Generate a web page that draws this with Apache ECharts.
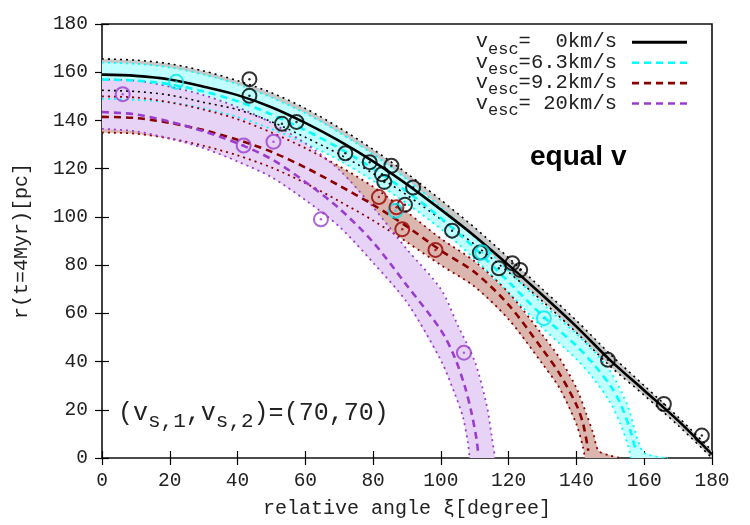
<!DOCTYPE html>
<html><head><meta charset="utf-8">
<script src="https://cdn.jsdelivr.net/npm/echarts/dist/echarts.min.js"></script>
<style>html,body{margin:0;padding:0;background:#fff}#c{width:750px;height:525px}</style>
</head><body><div id="c"></div>
<script>
// ---------- data ----------
const blackX   = [0,10,20,30,40,50,60,70,80,90,100,110,120,130,140,150,160,170,180];
const blackMid = [159,158.5,157,154,150.5,145.5,139,131.5,123,113.5,103,92,80,67.5,54.5,40.5,28,15.5,1.5];
const blackUp  = [165.5,165,163.5,160.5,156.5,151.5,145,137,128,118,107,95.5,83,70,57,43,30,17,3];
const blackLo  = [152.5,152,150.5,147.5,144.5,139.5,133,126,118,109,99,88.5,77,65,52,38,26,13.5,0];

const cyanMidX = [0,10,20,30,40,50,60,70,80,90,100,110,120,130,140,145,150,153,156,157.5];
const cyanMid  = [157,156.5,155,152,148,142.5,136,128.5,120,110.5,99.5,87,73,59,46.5,39,30,22.5,11,3];
const cyanUpX  = [0,10,20,30,40,50,60,70,80,90,100,110,120,130,140,145,150,155,158,160,167];
const cyanUp   = [164,163.5,162,159,155,149.5,143,135,126,115.5,104,91.5,77.5,64,51.5,44.5,36,22,8,2,0];
const cyanLoX  = [0,10,20,30,40,50,60,70,80,90,100,110,120,130,140,145,150,153,155.5,156];
const cyanLo   = [149,148.5,147.5,145,141.5,136.5,130.5,123.5,115,105.5,95,82.5,68.5,54,41,33,23,14,4,0];

const redMidX  = [0,10,20,30,40,50,60,70,80,90,100,110,120,130,135,140,142,143.5];
const redMid   = [141.5,141,139,136,132,127,120.5,113,105,96,86,77,63.5,45,35,22,14,3];
const redUpX   = [0,10,20,30,40,50,60,70,80,90,100,110,120,130,135,140,143,145,146.5,150,153];
const redUp    = [150,149.5,147.5,144.5,140.5,135,128.5,121,112.5,102,91,81.5,68.5,51,41.5,29,18,10,3,1,0];
const redLoX   = [0,10,20,30,40,50,60,70,80,90,100,110,120,130,135,140,142,142.5];
const redLo    = [135,134.5,132.5,129.5,125.5,120.5,114,106.5,98.5,89.5,80,71,57.5,39,29,14,4,0];

const purpleMidX = [0,10,20,30,40,50,60,70,80,90,100,104,107,109,110.5,111];
const purpleMid  = [143.5,142.5,139.5,135.5,130.5,124,114.5,103.5,89.5,71.5,53,42,30,19,8,2];
const purpleUpX  = [0,10,20,30,40,50,60,70,80,90,100,105,110,113.5,115,116];
const purpleUp   = [157,156.5,154,150.5,145.5,139,130.5,119.5,104,86.5,70,55,40,22,9,0];
const purpleLoX  = [0,10,20,30,40,50,60,70,80,90,100,104,106.5,108,108.5];
const purpleLo   = [136.5,135.5,132.5,128.5,123,116.5,107,96,81,64.5,40.5,27,17,6,0];

const blackPtsX  = [43.5,43.5,53.1,57.4,71.8,79,85.4,82.6,83.3,91.8,89.4,103.3,111.5,117.1,121.1,123.4,149.3,165.8,177];
const blackPtsY  = [157.1,150.2,138.6,139.4,126.4,122.7,121.2,117.7,114.5,112.2,105,94.3,85.2,78.7,80.8,78,40.7,22.4,9.3];
const cyanPtsX   = [21.9,86.6,112.2,130.4];
const cyanPtsY   = [156,102.5,85.2,58];
const redPtsX    = [81.7,86.9,88.6,98.4];
const redPtsY    = [108.2,104,94.9,86.3];
const purplePtsX = [6.1,41.8,50.6,64.6,106.8];
const purplePtsY = [150.9,129.6,131.2,99,43.7];

const legendValues = ['  0', '6.3', '9.2', ' 20'];   // v_esc labels, km/s

// ---------- styling ----------
const MONO = '"Liberation Mono","DejaVu Sans Mono",monospace';
const C = {black:'#000000', cyan:'#00ffff', red:'#8b0000', purple:'#9a3ccf'};
const F = {black:'#c8c8c8', cyan:'#bfffff', red:'#dbb6ae', purple:'#e7d3f6'};
const legendColors = [C.black, C.cyan, C.red, C.purple];

const zip = (xs, ys) => xs.map((x, i) => [x, ys[i]]);

function band(name, ux, uy, lx, ly, fill, z) {
  return {
    type: 'custom', name: name, coordinateSystem: 'cartesian2d', clip: true, silent: true, z: z,
    data: [[0, 0]],
    renderItem: function (params, api) {
      const pts = [];
      for (let i = 0; i < ux.length; i++) pts.push(api.coord([ux[i], uy[i]]));
      for (let i = lx.length - 1; i >= 0; i--) pts.push(api.coord([lx[i], ly[i]]));
      return {type: 'polygon', shape: {points: pts}, style: {fill: fill, stroke: null}};
    }
  };
}
function line(name, xs, ys, color, width, dash, z) {
  return {
    type: 'line', name: name, data: zip(xs, ys), symbol: 'none', showSymbol: false,
    smooth: 0.3, clip: true, z: z, silent: true,
    lineStyle: {color: color, width: width, type: dash}
  };
}
function circles(name, xs, ys, color) {
  return [{
    type: 'scatter', name: name, data: zip(xs, ys), symbol: 'circle', symbolSize: 14, z: 6, silent: true,
    itemStyle: {color: 'rgba(0,0,0,0)', borderColor: color, borderWidth: 2}
  }, {
    type: 'scatter', name: name + 'dot', data: zip(xs, ys), symbol: 'circle', symbolSize: 2.5, z: 7, silent: true,
    itemStyle: {color: color}
  }];
}

const dotted = [2, 4];
const dashed = [7, 5];

const series = [
  band('bandBlack', blackX, blackUp, blackX, blackLo, F.black, 1),
  band('bandCyan', cyanUpX, cyanUp, cyanLoX, cyanLo, F.cyan, 1),
  band('bandRed', redUpX, redUp, redLoX, redLo, F.red, 1),
  band('bandPurple', purpleUpX, purpleUp, purpleLoX, purpleLo, F.purple, 1),

  line('bU', blackX, blackUp, C.black, 1.6, dotted, 3),
  line('bL', blackX, blackLo, C.black, 1.6, dotted, 3),
  line('cU', cyanUpX, cyanUp, C.cyan, 1.8, dotted, 3),
  line('cL', cyanLoX, cyanLo, C.cyan, 1.8, dotted, 3),
  line('rU', redUpX, redUp, C.red, 1.8, dotted, 3),
  line('rL', redLoX, redLo, C.red, 1.8, dotted, 3),
  line('pU', purpleUpX, purpleUp, C.purple, 1.8, dotted, 3),
  line('pL', purpleLoX, purpleLo, C.purple, 1.8, dotted, 3),

  line('v0', blackX, blackMid, C.black, 2.6, 'solid', 5),
  line('v63', cyanMidX, cyanMid, C.cyan, 2.6, dashed, 4),
  line('v92', redMidX, redMid, C.red, 2.6, dashed, 4),
  line('v20', purpleMidX, purpleMid, C.purple, 2.6, dashed, 4)
].concat(
  circles('pb', blackPtsX, blackPtsY, C.black),
  circles('pc', cyanPtsX, cyanPtsY, '#00e8f0'),
  circles('pr', redPtsX, redPtsY, '#990000'),
  circles('pp', purplePtsX, purplePtsY, C.purple)
);

// legend drawn as graphic elements (text + sample lines)
const legendGraphics = [];
legendValues.forEach((v, i) => {
  const yLine = 42.3 + i * 20.4;
  legendGraphics.push({
    type: 'text', x: 617, y: yLine - 10.8, z: 100,
    style: {
      text: '{m|v}{s|esc}{m|=' + v + 'km/s}', align: 'right', verticalAlign: 'top', fill: '#222',
      rich: {
        m: {fontFamily: MONO, fontSize: 20.5, lineHeight: 20, verticalAlign: 'top', fill: '#222'},
        s: {fontFamily: MONO, fontSize: 17, lineHeight: 17, padding: [9, 0, 0, 0], verticalAlign: 'top', fill: '#222'}
      }
    }
  });
  legendGraphics.push({
    type: 'line', z: 100,
    shape: {x1: 632, y1: yLine, x2: 687, y2: yLine},
    style: {stroke: legendColors[i], lineWidth: i === 0 ? 3 : 2.6, lineDash: i === 0 ? null : dashed}
  });
});

const tickStyle = {inside: true, length: 7, lineStyle: {color: '#000', width: 1.2}};
const labelStyle = {fontFamily: MONO, fontSize: 19.5, color: '#222'};

const option = {
  animation: false,
  backgroundColor: '#fff',
  grid: {left: 102, right: 38, top: 24, bottom: 67, show: true, borderColor: '#111', borderWidth: 1.6,
         backgroundColor: 'transparent', containLabel: false, outerBoundsMode: 'none'},
  xAxis: [
    {type: 'value', min: 0, max: 180, interval: 20, position: 'bottom',
     axisLine: {show: false}, axisTick: tickStyle, splitLine: {show: false},
     axisLabel: Object.assign({margin: 13}, labelStyle),
     name: 'relative angle ξ[degree]', nameLocation: 'middle', nameGap: 41,
     nameTextStyle: {fontFamily: MONO, fontSize: 20, color: '#222'}},
    {type: 'value', min: 0, max: 180, interval: 20, position: 'top',
     axisLine: {show: false}, axisTick: tickStyle, splitLine: {show: false}, axisLabel: {show: false}}
  ],
  yAxis: [
    {type: 'value', min: 0, max: 180, interval: 20, position: 'left',
     axisLine: {show: false}, axisTick: tickStyle, splitLine: {show: false},
     axisLabel: Object.assign({margin: 14}, labelStyle),
     name: 'r(t=4Myr)[pc]', nameLocation: 'middle', nameGap: 70,
     nameTextStyle: {fontFamily: MONO, fontSize: 20, color: '#222'}},
    {type: 'value', min: 0, max: 180, interval: 20, position: 'right',
     axisLine: {show: false}, axisTick: tickStyle, splitLine: {show: false}, axisLabel: {show: false}}
  ],
  graphic: legendGraphics.concat([
    {type: 'text', x: 530, y: 157, z: 100,
     style: {text: 'equal v', fontFamily: '"Liberation Sans",Arial,sans-serif', fontWeight: 'bold',
             fontSize: 28, fill: '#000', verticalAlign: 'middle', align: 'left'}},
    {type: 'text', x: 118, y: 401, z: 100,
     style: {text: '{a|(v}{s|s,1}{a|,v}{s|s,2}{a|)=(70,70)}', verticalAlign: 'top', align: 'left', fill: '#222',
             rich: {
               a: {fontFamily: MONO, fontSize: 25, lineHeight: 25, verticalAlign: 'top', fill: '#222'},
               s: {fontFamily: MONO, fontSize: 21, lineHeight: 21, padding: [10, 0, 0, 0], verticalAlign: 'top', fill: '#222'}
             }}}
  ]),
  series: series
};

const chart = echarts.init(document.getElementById('c'), null, {renderer: 'canvas', width: 750, height: 525});
chart.setOption(option);
</script></body></html>
